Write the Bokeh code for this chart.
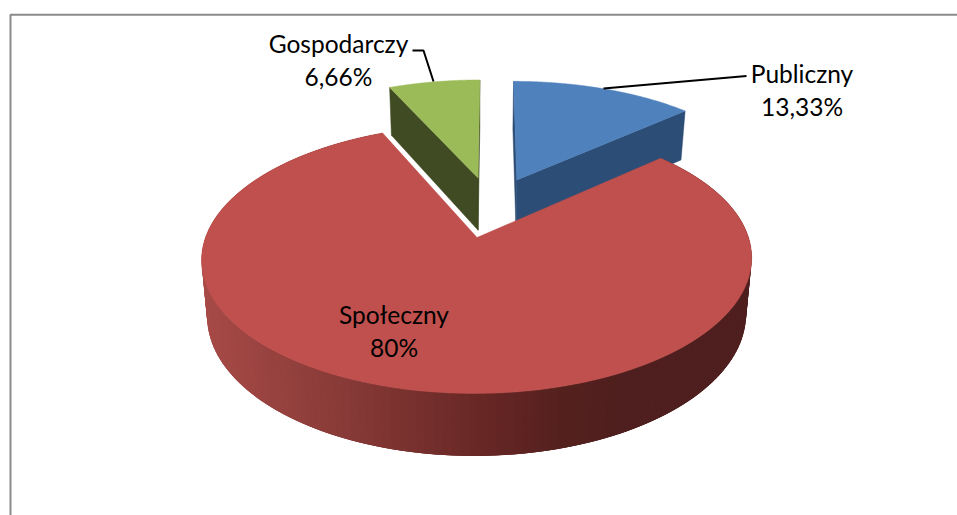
import numpy as np
from bokeh.plotting import figure
from bokeh.models import ColumnDataSource
from bokeh.core.properties import value
from bokeh.embed import file_html
from bokeh.resources import INLINE

# --- data ---
categories = ["Publiczny", "Społeczny", "Gospodarczy"]
shares = [13.33, 80.0, 6.66]
share_labels = ["13,33%", "80%", "6,66%"]

# --- styling ---
TOP = {"Publiczny": "#4f81bd", "Społeczny": "#bf504d", "Gospodarczy": "#9bbb59"}
WALL = {"Publiczny": "#2c4d75", "Społeczny": "#7a3533", "Gospodarczy": "#414b23"}
GRAD_X = [205, 350, 476, 560, 625]
GRAD_RGB = [(168, 75, 72), (135, 58, 55), (105, 40, 38), (85, 33, 31), (78, 31, 30)]
FONT = value("Lato")
FS = "24.5px"

# --- 3D projection of the pie ---
APEX_X, APEX_Y = 476.5, 237.0   # screen position of the large slice's tip
RX, RY, PERSP = 271.5, 131.0, 0.16
SHEAR = 0.018
EXPLODE = 0.25
DEPTH, DEPTH_Y, DEPTH_X = 55.0, 1.048, 0.98


def project(u, v, bottom=False):
    u, v = np.asarray(u, float), np.asarray(v, float)
    w = 1 + PERSP * v
    dx, dy = RX * u / w, RY * v / w
    if bottom:
        return APEX_X + DEPTH_X * dx + SHEAR * dy, APEX_Y + DEPTH - DEPTH_Y * dy
    return APEX_X + dx + SHEAR * dy, APEX_Y - dy


total = sum(shares)
edges = np.concatenate([[0], np.cumsum(shares)]) / total * 2 * np.pi
mids = (edges[:-1] + edges[1:]) / 2
ref = categories.index("Społeczny")
off_u = EXPLODE * (np.sin(mids) - np.sin(mids[ref]))
off_v = EXPLODE * (np.cos(mids) - np.cos(mids[ref]))


def rim(i, n=200):
    t = np.linspace(edges[i], edges[i + 1], n)
    return t, off_u[i] + np.sin(t), off_v[i] + np.cos(t)


W, H = 957, 515
p = figure(width=W, height=H, x_range=(0, W), y_range=(H, 0),
           output_backend="svg", toolbar_location=None, min_border=0)
p.axis.visible = False
p.grid.visible = False
p.outline_line_color = None
p.background_fill_color = "white"
p.border_fill_color = "white"

# chart-area frame (runs off the right and bottom of the picture)
p.line([10, 10, W], [H, 14.3, 14.3], line_color="#8a8a8a", line_width=2)

# small slices first: flat inner walls, then tops
for name in ["Gospodarczy", "Publiczny"]:
    i = categories.index(name)
    t, ru, rv = rim(i)
    cu, cv = off_u[i], off_v[i]
    for a in (0, -1):
        xs = [project(cu, cv)[0], project(ru[a], rv[a])[0],
              project(ru[a], rv[a], True)[0], project(cu, cv, True)[0]]
        ys = [project(cu, cv)[1], project(ru[a], rv[a])[1],
              project(ru[a], rv[a], True)[1], project(cu, cv, True)[1]]
        p.patch(xs, ys, fill_color=WALL[name], line_color=WALL[name], line_width=0.5)
    tx, ty = project(np.r_[cu, ru], np.r_[cv, rv])
    p.patch(tx, ty, fill_color=TOP[name], line_color=TOP[name], line_width=0.5)

# large slice: shaded outer wall in overlapping strips, then the top
i = categories.index("Społeczny")
t, ru, rv = rim(i, 181)
xt, yt = project(ru, rv)
xb, yb = project(ru, rv, True)
sx, sy, sc = [], [], []
OVERLAP = 3
for k in range(len(t) - OVERLAP):
    j = k + OVERLAP
    sx.append([xt[k], xt[j], xb[j], xb[k]])
    sy.append([yt[k], yt[j], yb[j], yb[k]])
    xm = (xb[k] + xb[k + 1]) / 2
    r, g, b = (np.interp(xm, GRAD_X, [c[m] for c in GRAD_RGB]) for m in range(3))
    sc.append("#%02x%02x%02x" % (int(r), int(g), int(b)))
p.patches(sx, sy, fill_color=sc, line_color=None)
tx, ty = project(np.r_[off_u[i], ru], np.r_[off_v[i], rv])
p.patch(tx, ty, fill_color=TOP["Społeczny"], line_color=TOP["Społeczny"], line_width=0.5)

# leader lines
p.line([603, 746], [88, 75.5], line_color="black", line_width=2)
p.line([433, 423, 412], [81, 50, 50], line_color="black", line_width=2)

# labels
label_x = [801.5, 393.5, 338]
label_y = [73, 313.5, 42.5]
LINE_GAP = 33
src = ColumnDataSource(dict(
    x=label_x * 2,
    y=label_y + [y + LINE_GAP for y in label_y],
    t=categories + share_labels,
))
p.text("x", "y", text="t", source=src, text_font=FONT, text_font_size=FS,
       text_color="black", text_align="center", text_baseline="middle")

open("out.html", "w").write(file_html(p, INLINE))
